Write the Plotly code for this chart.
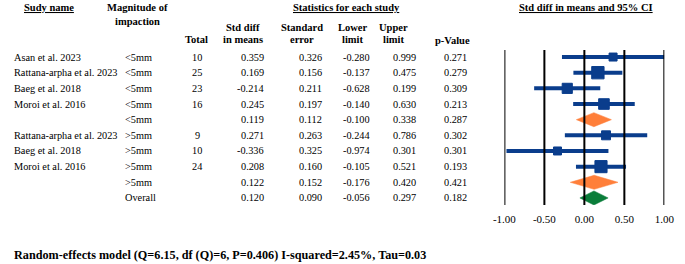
import plotly.graph_objects as go
import html

W, H = 685, 264

# ---------------- data ----------------
studies = ["Asan et al. 2023", "Rattana-arpha et al. 2023", "Baeg et al. 2018", "Moroi et al. 2016", "",
           "Rattana-arpha et al. 2023", "Baeg et al. 2018", "Moroi et al. 2016", "", ""]
magnitude = ["<5mm", "<5mm", "<5mm", "<5mm", "<5mm", ">5mm", ">5mm", ">5mm", ">5mm", "Overall"]
total = ["10", "25", "23", "16", "", "9", "10", "24", "", ""]
std_diff = [0.359, 0.169, -0.214, 0.245, 0.119, 0.271, -0.336, 0.208, 0.122, 0.120]
std_err = [0.326, 0.156, 0.211, 0.197, 0.112, 0.263, 0.325, 0.160, 0.152, 0.090]
lower = [-0.280, -0.137, -0.628, -0.140, -0.100, -0.244, -0.974, -0.105, -0.176, -0.056]
upper = [0.999, 0.475, 0.199, 0.630, 0.338, 0.786, 0.301, 0.521, 0.420, 0.297]
p_value = [0.271, 0.279, 0.309, 0.213, 0.287, 0.302, 0.301, 0.193, 0.421, 0.182]
row_type = ["study", "study", "study", "study", "subgroup",
            "study", "study", "study", "subgroup", "overall"]
tick_vals = [-1.0, -0.5, 0.0, 0.5, 1.0]
tick_text = ["-1.00", "-0.50", "0.00", "0.50", "1.00"]
footer = "Random-effects model (Q=6.15, df (Q)=6, P=0.406) I-squared=2.45%, Tau=0.03"

# ---------------- styles ----------------
BLUE = "#0a3d8c"
ORANGE = "#ff7f3a"
GREEN = "#0a7d3a"
FONT = "Liberation Serif, Times New Roman, Times, serif"
FS = 10.3
HFS = 10.5

def px(x):
    return x / W

def py(y):
    return 1 - y / H

fig = go.Figure()

rows = list(range(len(studies)))

# confidence intervals of individual studies
for i in rows:
    if row_type[i] == "study":
        fig.add_trace(go.Scatter(x=[lower[i], upper[i]], y=[i, i], mode="lines",
                                 line=dict(color=BLUE, width=4), hoverinfo="skip",
                                 showlegend=False))

# point estimates (squares sized by inverse-variance weight)
st = [i for i in rows if row_type[i] == "study"]
sizes = [4 + 1.3 * (1 / std_err[i] ** 2) ** 0.5 for i in st]
fig.add_trace(go.Scatter(x=[std_diff[i] for i in st], y=st, mode="markers",
                         marker=dict(symbol="square", color=BLUE, size=sizes, opacity=1,
                                     line=dict(width=1, color=BLUE)),
                         showlegend=False, hoverinfo="skip"))

# summary diamonds
hh = 0.45
for i in rows:
    if row_type[i] != "study":
        col = ORANGE if row_type[i] == "subgroup" else GREEN
        fig.add_trace(go.Scatter(x=[lower[i], std_diff[i], upper[i], std_diff[i], lower[i]],
                                 y=[i, i - hh, i, i + hh, i], mode="lines", fill="toself",
                                 fillcolor=col, line=dict(color=col, width=0.5),
                                 showlegend=False, hoverinfo="skip"))

# vertical reference lines
for v in tick_vals:
    fig.add_shape(type="line", xref="x", yref="y domain", x0=v, x1=v, y0=0, y1=1,
                  line=dict(color="black", width=2))

def ann(x, y, text, anchor="left", yref="y", size=FS):
    fig.add_annotation(x=x, y=y, xref="paper", yref=yref, text=text, showarrow=False,
                       xanchor=anchor, yanchor="middle", borderpad=0,
                       font=dict(family=FONT, size=size, color="black"))

esc = lambda s: html.escape(s)
for i in rows:
    if studies[i]:
        ann(px(2), i, esc(studies[i]))
    ann(px(117), i, esc(magnitude[i]))
    if total[i]:
        ann(px(192), i, total[i], "center")
    ann(px(262), i, f"{std_diff[i]:.3f}", "right")
    ann(px(322), i, f"{std_err[i]:.3f}", "right")
    ann(px(371), i, f"{lower[i]:.3f}", "right")
    ann(px(419), i, f"{upper[i]:.3f}", "right")
    ann(px(471), i, f"{p_value[i]:.3f}", "right")

# headers
ann(px(12), py(8), "<b><u>Sudy name</u></b>", yref="paper", size=HFS)
ann(px(131), py(8), "<b>Magnitude of</b>", "center", yref="paper", size=HFS)
ann(px(131), py(21), "<b>impaction</b>", "center", yref="paper", size=HFS)
ann(px(346), py(8), "<b><u>Statistics for each study</u></b>", "center", yref="paper", size=HFS)
ann(px(593), py(8), "<b><u>Std diff in means and 95% CI</u></b>", "center", yref="paper", size=HFS)
ann(px(191), py(40), "<b>Total</b>", "center", yref="paper", size=HFS)
ann(px(239), py(27), "<b>Std diff</b>", "center", yref="paper", size=HFS)
ann(px(239), py(40), "<b>in means</b>", "center", yref="paper", size=HFS)
ann(px(300), py(27), "<b>Standard</b>", "center", yref="paper", size=HFS)
ann(px(300), py(40), "<b>error</b>", "center", yref="paper", size=HFS)
ann(px(352), py(27), "<b>Lower</b>", "center", yref="paper", size=HFS)
ann(px(352), py(40), "<b>limit</b>", "center", yref="paper", size=HFS)
ann(px(395), py(27), "<b>Upper</b>", "center", yref="paper", size=HFS)
ann(px(395), py(40), "<b>limit</b>", "center", yref="paper", size=HFS)
ann(px(455), py(41), "<b>p-Value</b>", "center", yref="paper", size=HFS)

# footer
ann(px(2), py(255), f"<b>{footer}</b>", yref="paper", size=12.2)

fig.update_layout(
    width=W, height=H,
    margin=dict(l=0, r=0, t=0, b=0),
    paper_bgcolor="white", plot_bgcolor="white",
    xaxis=dict(domain=[px(509), px(674)], range=[-1, 1], showgrid=False, zeroline=False,
               showline=False, ticks="", tickvals=tick_vals, ticktext=tick_text,
               tickfont=dict(family=FONT, size=11, color="black"), ticklabelstandoff=6,
               fixedrange=True),
    yaxis=dict(domain=[py(205), py(50)], range=[9.45, -0.45], visible=False, fixedrange=True),
)

fig.write_html("out.html", config={"displayModeBar": False},
               post_script="document.body.style.margin='0px';")
